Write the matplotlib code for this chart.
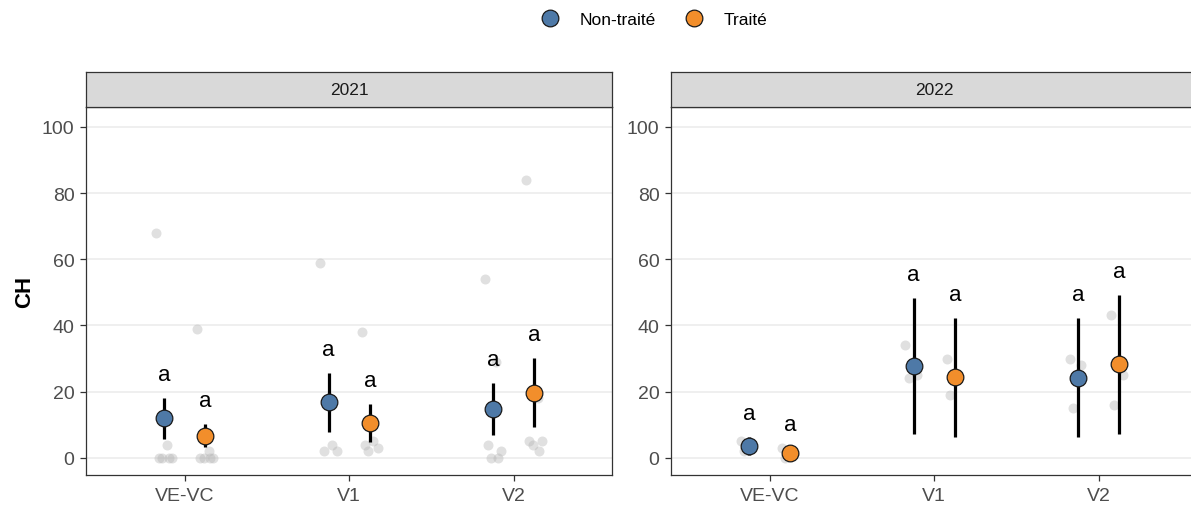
import matplotlib.pyplot as plt
from matplotlib.lines import Line2D

plt.rcParams['font.family'] = ['Liberation Sans', 'DejaVu Sans']

# données
annees = ['2021', '2022']
stades = ['VE-VC', 'V1', 'V2']
groupes = ['Non-traité', 'Traité']

# moyennes et intervalles [annee][stade]
moy_nt = [[12.0, 16.8, 14.8], [3.7, 27.6, 24.2]]
bas_nt = [[5.7, 7.8, 6.9], [0.7, 7.3, 6.2]]
haut_nt = [[18.1, 25.7, 22.7], [6.4, 48.3, 42.3]]

moy_t = [[6.6, 10.6, 19.5], [1.5, 24.4, 28.4]]
bas_t = [[3.3, 4.9, 9.4], [0.0, 6.2, 7.3]]
haut_t = [[10.3, 16.3, 30.2], [3.0, 42.3, 49.3]]

lettres_nt = [['a', 'a', 'a'], ['a', 'a', 'a']]
lettres_t = [['a', 'a', 'a'], ['a', 'a', 'a']]

# observations brutes [annee][stade]
obs_nt = [[[68, 4, 0, 0, 0, 0], [59, 4, 2, 2], [54, 29, 4, 2, 0, 0]],
          [[5, 4, 2], [34, 25, 24], [30, 28, 15]]]
obs_t = [[[39, 2, 0, 0, 0, 0], [38, 5, 4, 3, 2], [84, 18, 5, 5, 4, 2]],
         [[3, 1, 0], [30, 24, 19], [43, 25, 16]]]

couleurs = ['#4E79A7', '#F28E2B']
jitter = [-0.05, 0.02, -0.03, 0.05, -0.01, 0.03]
dodge = 0.125

fig = plt.figure(figsize=(11.91, 5.06), dpi=100)

gauches = [0.0722, 0.5634]
largeur = 0.4420
bas_ax = 0.0593
haut_ax = 0.7273
h_strip = 0.0692

for k, annee in enumerate(annees):
    ax = fig.add_axes([gauches[k], bas_ax, largeur, haut_ax])
    series = [(moy_nt[k], bas_nt[k], haut_nt[k], lettres_nt[k], obs_nt[k]),
              (moy_t[k], bas_t[k], haut_t[k], lettres_t[k], obs_t[k])]
    for g, (moy, bas, haut, lettres, obs) in enumerate(series):
        dx = -dodge if g == 0 else dodge
        for i in range(len(stades)):
            x0 = i + 1 + dx
            for j, v in enumerate(obs[i]):
                ax.plot(x0 + jitter[j % len(jitter)], v, 'o', color='#B3B3B3',
                        alpha=0.4, markersize=7.2, markeredgewidth=0, zorder=2)
            ax.plot([x0, x0], [bas[i], haut[i]], color='black', lw=2.3,
                    solid_capstyle='butt', zorder=3)
            ax.plot(x0, moy[i], 'o', color=couleurs[g], markersize=12,
                    markeredgecolor='#1a1a1a', markeredgewidth=0.9, zorder=4)
            ax.text(x0, haut[i] + 7, lettres[i], ha='center', va='center',
                    fontsize=16, zorder=5)

    ax.set_xlim(0.4, 3.6)
    ax.set_ylim(-5.2, 106)
    ax.set_xticks([1, 2, 3])
    ax.set_xticklabels(stades)
    ax.set_yticks([0, 20, 40, 60, 80, 100])
    ax.tick_params(axis='both', colors='#333333', labelcolor='#4D4D4D',
                   labelsize=14, length=4.3, width=0.9, pad=4)
    ax.grid(axis='y', color='#EBEBEB', lw=1.1)
    ax.set_axisbelow(True)
    for s in ax.spines.values():
        s.set_color('#333333')
        s.set_linewidth(0.9)
    if k == 0:
        ax.set_ylabel('CH', fontsize=16, fontweight='bold', labelpad=5)

    # bandeau de facette
    st = fig.add_axes([gauches[k], bas_ax + haut_ax, largeur, h_strip])
    st.set_facecolor('#D9D9D9')
    st.set_xticks([])
    st.set_yticks([])
    for s in st.spines.values():
        s.set_color('#333333')
        s.set_linewidth(0.9)
    st.text(0.5, 0.5, annee, ha='center', va='center', fontsize=12.5,
            color='#1A1A1A', transform=st.transAxes)

poignees = [Line2D([], [], marker='o', ls='', color=c, markersize=12,
                   markeredgecolor='#1a1a1a', markeredgewidth=0.9) for c in couleurs]
fig.legend(poignees, groupes, loc='center', bbox_to_anchor=(0.546, 0.96), ncol=2,
           frameon=False, fontsize=12.5, handletextpad=0.7, columnspacing=1.2)

fig.savefig('out.png', dpi=100)
